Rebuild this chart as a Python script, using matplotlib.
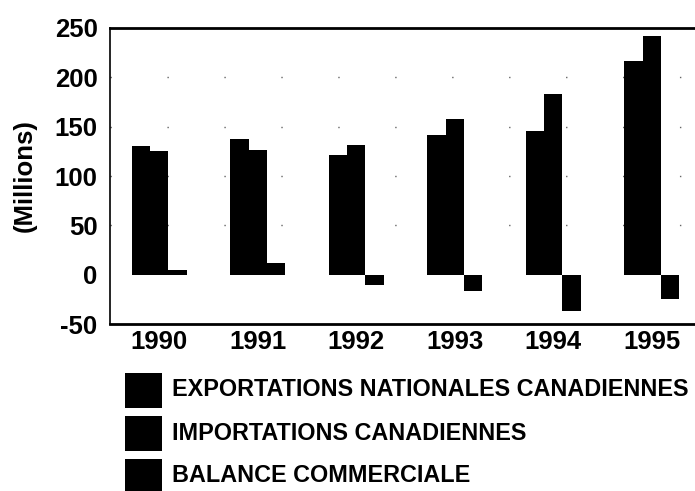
#!/usr/bin/env python3

import matplotlib
matplotlib.use('Agg')
import matplotlib.pyplot as plt
from matplotlib.patches import Rectangle
import numpy as np

# Valeurs (millions)
years = ['1990', '1991', '1992', '1993', '1994', '1995']
exportations = [130, 138, 121, 142, 146, 217]
importations = [125, 126, 131, 158, 183, 242]
balance = [5, 12, -10, -16, -37, -25]

labels = ['EXPORTATIONS NATIONALES CANADIENNES',
          'IMPORTATIONS CANADIENNES',
          'BALANCE COMMERCIALE']

plt.rcParams['font.family'] = ['Liberation Sans', 'DejaVu Sans']
plt.rcParams['font.weight'] = 'bold'
plt.rcParams['axes.unicode_minus'] = False

W, H = 695, 491
fig = plt.figure(figsize=(W / 100, H / 100), dpi=100)
ax = fig.add_axes([0.1583, 0.340, 0.8417, 0.603])

x = np.arange(len(years))
w = 0.185

ax.bar(x - w, exportations, w, color='black', linewidth=0)
ax.bar(x, importations, w, color='black', linewidth=0)
ax.bar(x + w, balance, w, color='black', linewidth=0)

ax.set_xlim(-0.5, 5.44)
ax.set_ylim(-50, 250)
ax.set_yticks([-50, 0, 50, 100, 150, 200, 250])
ax.set_xticks(x)
ax.set_xticklabels(years)

# pointillés très clairsemés comme sur le scan
for yv in [50, 100, 150, 200]:
    ax.axhline(yv, color='#666666', linestyle=(0, (1, 40)), linewidth=1, zorder=0)

ax.tick_params(axis='y', length=0, pad=9, labelsize=18.5)
ax.tick_params(axis='x', length=0, pad=4, labelsize=18.5)
for t in ax.get_xticklabels() + ax.get_yticklabels():
    t.set_fontweight('bold')

ax.spines['right'].set_visible(False)
ax.spines['left'].set_linewidth(1.2)
ax.spines['top'].set_linewidth(2)
ax.spines['bottom'].set_linewidth(2)

ax.set_ylabel('(Millions)', fontsize=18.5, fontweight='bold', labelpad=13)

# légende dessinée à la main (carrés noirs + texte)
for i, lab in enumerate(labels):
    yc = 390 + 43 * i
    fig.patches.append(Rectangle((125 / W, 1 - (yc + 17.5) / H), 37 / W, 35 / H,
                                 transform=fig.transFigure, facecolor='black',
                                 edgecolor='none'))
    fig.text(172 / W, 1 - yc / H, lab, fontsize=16.8, fontweight='bold',
             ha='left', va='center')

plt.savefig('out.png', dpi=100)
